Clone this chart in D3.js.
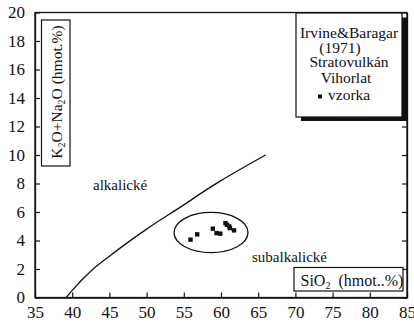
<!DOCTYPE html>
<html>
<head>
<meta charset="utf-8">
<script src="https://cdn.jsdelivr.net/npm/d3@7"></script>
<style>
  body { margin: 0; background: #fff; }
  svg text { font-family: "Liberation Serif", "Times New Roman", "DejaVu Serif", serif !important; fill: #111; }
</style>
</head>
<body>
<div id="chart"></div>
<script>
// Irvine & Baragar (1971) boundary
var boundarySiO2 = [39.2, 40, 42.6, 45, 50, 55, 58, 60, 66]
var boundaryAlk = [0, 0.5, 1.9, 2.9, 4.8, 6.5, 7.55, 8.2, 10]

// samples (vzorka)
var sampleSiO2 = [55.9, 56.8, 58.9, 59.4, 59.9, 60.6, 60.8, 61.1, 61.2, 61.75]
var sampleAlk = [4.06, 4.43, 4.83, 4.52, 4.48, 5.22, 5.1, 4.99, 4.87, 4.71]

var xTicks = [35, 40, 45, 50, 55, 60, 65, 70, 75, 80, 85]
var yTicks = [0, 2, 4, 6, 8, 10, 12, 14, 16, 18, 20]
var legendLines = ['Irvine&Baragar', '(1971)', 'Stratovulkán', 'Vihorlat']
var legendLabel = 'vzorka'

// ellipse round the samples: centre and half axes in data units
var ringCenter = [58.66, 4.56]
var ringRadius = [4.97, 1.41]

var w = 414
var h = 323
var margin = { top: 12.5, right: 7, bottom: 25.5, left: 35 }

var svg = d3.select('#chart')
  .append('svg')
  .attr('width', w)
  .attr('height', h)

var x = d3.scaleLinear().domain([35, 85]).range([margin.left, w - margin.right])
var y = d3.scaleLinear().domain([0, 20]).range([h - margin.bottom, margin.top])

// frame
svg.append('rect')
  .attr('x', x(35)).attr('y', y(20))
  .attr('width', x(85) - x(35)).attr('height', y(0) - y(20))
  .attr('fill', 'none').attr('stroke', '#111').attr('stroke-width', 1.3)

svg.append('g')
  .attr('transform', 'translate(0,' + y(0) + ')')
  .call(d3.axisBottom(x).tickValues(xTicks).tickSizeInner(-5).tickSizeOuter(0).tickPadding(8))
svg.append('g')
  .attr('transform', 'translate(' + x(35) + ',0)')
  .call(d3.axisLeft(y).tickValues(yTicks).tickSizeInner(-5).tickSizeOuter(0).tickPadding(10))
svg.append('g')
  .attr('transform', 'translate(' + x(85) + ',0)')
  .call(d3.axisRight(y).tickValues(yTicks).tickSizeInner(-5).tickSizeOuter(0).tickFormat(''))

svg.selectAll('.domain').attr('stroke', '#111').attr('stroke-width', 1.3)
svg.selectAll('.tick line').attr('stroke', '#111').attr('stroke-width', 1.2)
svg.selectAll('.tick text').attr('font-size', 17).attr('fill', '#111')

// boundary line
var lineFunction = d3.line()
  .x(function (d, i) { return x(boundarySiO2[i]) })
  .y(function (d, i) { return y(boundaryAlk[i]) })
  .curve(d3.curveMonotoneX)

svg.append('path')
  .attr('d', lineFunction(boundarySiO2))
  .attr('fill', 'none')
  .attr('stroke', '#111')
  .attr('stroke-width', 1.3)

// ellipse
svg.append('ellipse')
  .attr('cx', x(ringCenter[0]))
  .attr('cy', y(ringCenter[1]))
  .attr('rx', x(ringCenter[0] + ringRadius[0]) - x(ringCenter[0]))
  .attr('ry', y(ringCenter[1]) - y(ringCenter[1] + ringRadius[1]))
  .attr('fill', 'none')
  .attr('stroke', '#111')
  .attr('stroke-width', 1.3)

// sample markers
svg.selectAll('rect.pt')
  .data(sampleSiO2)
  .enter()
  .append('rect')
  .attr('class', 'pt')
  .attr('x', function (d) { return x(d) - 2.2 })
  .attr('y', function (d, i) { return y(sampleAlk[i]) - 2.2 })
  .attr('width', 4.4)
  .attr('height', 4.4)
  .attr('fill', '#111')

// region labels
svg.append('text').attr('x', 93).attr('y', 190).attr('font-size', 15).text('alkalické')
svg.append('text').attr('x', 252).attr('y', 262).attr('font-size', 15).text('subalkalické')

// y label box
svg.append('rect')
  .attr('x', 41.5).attr('y', 20).attr('width', 28.5).attr('height', 146)
  .attr('fill', '#fff').attr('stroke', '#111').attr('stroke-width', 1.2)
var yl = svg.append('text')
  .attr('transform', 'translate(62,92) rotate(-90)')
  .attr('text-anchor', 'middle')
  .attr('font-size', 15.5)
yl.append('tspan').text('K')
yl.append('tspan').attr('font-size', 10).attr('dy', 3).text('2')
yl.append('tspan').attr('dy', -3).text('O+Na')
yl.append('tspan').attr('font-size', 10).attr('dy', 3).text('2')
yl.append('tspan').attr('dy', -3).text('O (hmot.%)')

// x label box
svg.append('rect')
  .attr('x', 294).attr('y', 267.5).attr('width', 109).attr('height', 23.5)
  .attr('fill', '#fff').attr('stroke', '#111').attr('stroke-width', 1.2)
var xl = svg.append('text')
  .attr('x', 300.5).attr('y', 286)
  .attr('font-size', 16)
  .attr('xml:space', 'preserve')
xl.append('tspan').text('SiO')
xl.append('tspan').attr('font-size', 10).attr('dy', 3).text('2')
xl.append('tspan').attr('dy', -3).text('  (hmot..%)')

// legend with shadow
svg.append('rect')
  .attr('x', 301).attr('y', 17.5).attr('width', 106).attr('height', 103.5)
  .attr('fill', '#111')
svg.append('rect')
  .attr('x', 296).attr('y', 13).attr('width', 106).attr('height', 104)
  .attr('fill', '#fff').attr('stroke', '#111').attr('stroke-width', 1.2)

var legendY = [38, 52.5, 67, 82.5]
var legendX = [349, 340, 349, 346]
svg.selectAll('text.leg')
  .data(legendLines)
  .enter()
  .append('text')
  .attr('class', 'leg')
  .attr('x', function (d, i) { return legendX[i] })
  .attr('y', function (d, i) { return legendY[i] })
  .attr('text-anchor', 'middle')
  .attr('font-size', 15.5)
  .text(function (d) { return d })

svg.append('rect')
  .attr('x', 318).attr('y', 94.5).attr('width', 4).attr('height', 4)
  .attr('fill', '#111')
svg.append('text').attr('x', 328).attr('y', 99.5).attr('font-size', 15.5).text(legendLabel)
</script>
</body>
</html>
